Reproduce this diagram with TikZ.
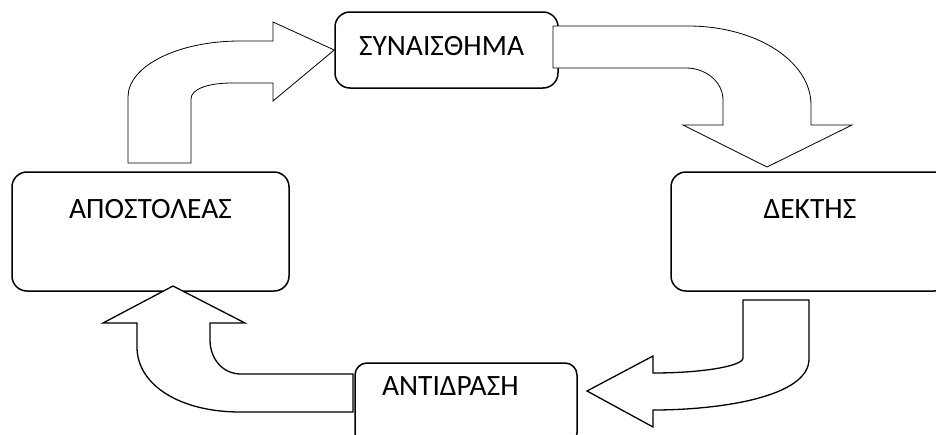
\documentclass[tikz,border=0pt]{standalone}
\usepackage{fontspec}
\setmainfont{Carlito}
\begin{document}
\begin{tikzpicture}[x=1pt,y=-1pt]
        \useasboundingbox (0,0) rectangle (936,434);
        \clip (0,0) rectangle (936,434);
        \begin{scope}[every node/.style={draw,line width=1.5pt,rounded corners=15pt,inner ysep=0pt,font=\fontsize{29.5}{34}\selectfont}]
            \node (send)  [minimum width=277pt,text height=46pt,text depth=73pt] at (150.5,231.5) {ΑΠΟΣΤΟΛΕΑΣ};
            \node (recv)  [minimum width=278pt,text height=46pt,text depth=73pt] at (810,231.5) {ΔΕΚΤΗΣ};
            \node (feel)  [inner xsep=24pt,text width=175pt,align=left,text height=43pt,text depth=33pt] at (446.5,50) {ΣΥΝΑΙΣΘΗΜΑ};
            \node (react) [rounded corners=12pt,inner xsep=27pt,text width=168pt,align=left,text height=32pt,text depth=50pt] at (466,404) {ΑΝΤΙΔΡΑΣΗ};
        \end{scope}
        % sender -> feeling
        \begin{scope}[line width=0.8pt]
            \filldraw[fill=white] (128,163) -- (128,97) .. controls (128,66) and (178,41) .. (240,41) -- (273,41)
                -- (273,22) -- (feel.west) -- (273,101) -- (273,83) -- (232,83)
                .. controls (208,83) and (191,89) .. (191,99) -- (191,163) -- cycle;
        \end{scope}
        % feeling -> receiver
        \begin{scope}[line width=0.8pt]
            \filldraw[fill=white] (553,26) -- (688,26) .. controls (756,26) and (811,61) .. (811,105) -- (811,125)
                -- (852,125) -- (767,167) -- (683,125) -- (723,125) -- (723,100)
                .. controls (723,82) and (706,68) .. (686,68) -- (553,68) -- cycle;
        \end{scope}
        % receiver -> reaction
        \begin{scope}[line width=1.3pt]
            \filldraw[fill=white] (743,300) -- (743,358) .. controls (743,366) and (703,373) .. (653,373)
                -- (653,356) -- (587,391) -- (653,427) -- (653,410)
                .. controls (720,410) and (809,397) .. (809,359) -- (809,300) -- cycle;
        \end{scope}
        % reaction -> sender
        \begin{scope}[line width=1.3pt]
            \filldraw[fill=white] (353,374) -- (241,374) .. controls (222,374) and (210,358) .. (210,340)
                -- (210,323) -- (245,323) -- (173,286) -- (103,323) -- (137,323) -- (137,347)
                .. controls (137,385) and (180,412) .. (240,412) -- (353,412) -- cycle;
        \end{scope}
    \end{tikzpicture}
\end{document}
